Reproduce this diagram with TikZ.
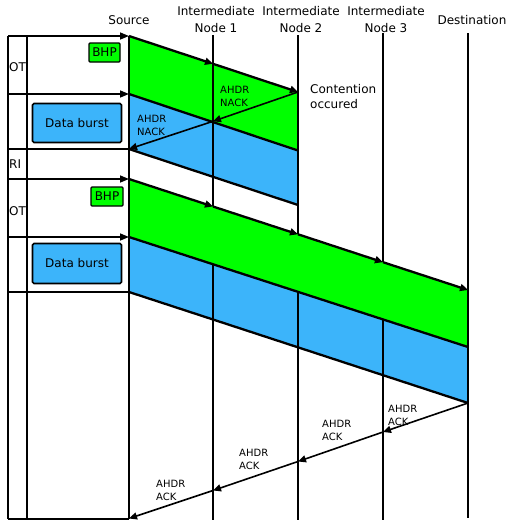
\documentclass[tikz,border=0pt]{standalone}
\usepackage{fontspec}
\setmainfont{DejaVu Sans}
\usetikzlibrary{arrows.meta}
\definecolor{bgreen}{RGB}{0,255,0}
\definecolor{bblue}{RGB}{60,180,250}
\begin{document}
\begin{tikzpicture}[x=1pt,y=-1pt,
  thinline/.style={line width=1.5pt},
  thickline/.style={line width=2.3pt},
  msgline/.style={line width=1.6pt},
  arrtip/.style={-{Triangle[length=8pt,width=7pt]}},
  harr/.style={-{Triangle[length=9pt,width=7pt]}},
  lbl/.style={font=\fontsize{12}{17}\selectfont, inner sep=0pt},
  small/.style={font=\fontsize{10}{13}\selectfont, inner sep=0pt, align=left, anchor=north west},
  databox/.style={draw=black, fill=bblue, line width=1.6pt, rounded corners=1.5pt, minimum width=89pt, minimum height=39pt, inner sep=0pt, font=\fontsize{12}{14}\selectfont},
  bhpbox/.style={draw=black, fill=bgreen, line width=1.4pt, rounded corners=1pt, minimum width=31pt, minimum height=19pt, inner sep=0pt, font=\fontsize{12}{14}\selectfont}
]
\useasboundingbox (0,0) rectangle (507,523);
% vertical line ends
\coordinate (St) at (129,36);  \coordinate (Sb) at (129,519);
\coordinate (N1t) at (213,35); \coordinate (N1b) at (213,520);
\coordinate (N2t) at (298,35); \coordinate (N2b) at (298,520);
\coordinate (N3t) at (383,33); \coordinate (N3b) at (383,520);
\coordinate (Dt) at (468,33);  \coordinate (Db) at (468,518);
\coordinate (Ot) at (8,36);    \coordinate (Ob) at (8,519);
\coordinate (It) at (27,36);   \coordinate (Ib) at (27,519);
% block 1
\coordinate (A1) at (129,36); \coordinate (A2) at (213,63.8); \coordinate (A3) at (298,92);
\coordinate (B1) at (129,94); \coordinate (B3) at (298,150.5);
\coordinate (C1) at (129,149); \coordinate (C3) at (298,205);
\coordinate (X) at (213,121.3);
% block 2
\coordinate (P1) at (129,179); \coordinate (P2) at (213,206.5); \coordinate (P3) at (298,234.3);
\coordinate (P4) at (383,262.2); \coordinate (P5) at (468,290);
\coordinate (Q1) at (129,237); \coordinate (Q5) at (468,347);
\coordinate (R1) at (129,292); \coordinate (R5) at (468,403);
% ACK points
\coordinate (K3) at (383,432); \coordinate (K2) at (298,461.5); \coordinate (K1) at (213,490.5);
\coordinate (K0) at (129,518.5);
% left horizontal line starts
\coordinate (H1) at (8,36);  \coordinate (H2) at (8,94);  \coordinate (H3) at (8,149);
\coordinate (H4) at (8,179); \coordinate (H5) at (8,237); \coordinate (H6) at (8,292);
\coordinate (E2) at (129,94); \coordinate (E3) at (129,149); \coordinate (E4) at (129,179);
\coordinate (E5) at (129,237); \coordinate (E6) at (129,292);

% fills
\fill[bgreen] (A1) -- (A3) -- (B3) -- (B1) -- cycle;
\fill[bblue] (B1) -- (B3) -- (C3) -- (C1) -- cycle;
\fill[bblue] (Q1) -- (Q5) -- (R5) -- (R1) -- cycle;
% vertical lines
\draw[thinline] (N1t) -- (N1b);
\draw[thinline] (N2t) -- (N2b);
\draw[thinline] (N3t) -- (N3b);
\draw[thinline] (Dt) -- (Db);
\draw[thinline] (Ot) -- (Ob);
\draw[thinline] (It) -- (Ib);
% green of block 2 covers the lines
\fill[bgreen] (P1) -- (P5) -- (Q5) -- (Q1) -- cycle;
\draw[thinline] (St) -- (Sb);
% block edges
\draw[thickline, arrtip] (A1) -- (A2);
\draw[thickline, arrtip] (A2) -- (A3);
\draw[thickline] (B1) -- (B3);
\draw[thickline] (C1) -- (C3);
\draw[thickline] (A3) -- (C3);
\draw[thickline, arrtip] (P1) -- (P2);
\draw[thickline, arrtip] (P2) -- (P3);
\draw[thickline, arrtip] (P3) -- (P4);
\draw[thickline, arrtip] (P4) -- (P5);
\draw[thickline] (Q1) -- (Q5);
\draw[thickline] (R1) -- (R5);
\draw[thickline] (P5) -- (R5);
% NACK
\draw[msgline, arrtip] (A3) -- (X);
\draw[msgline, arrtip] (X) -- (C1);
% ACK
\draw[msgline, arrtip] (R5) -- (K3);
\draw[msgline, arrtip] (K3) -- (K2);
\draw[msgline, arrtip] (K2) -- (K1);
\draw[msgline, arrtip] (K1) -- (K0);
% left horizontal lines
\draw[thinline, harr] (H1) -- (St);
\draw[thinline, harr] (H2) -- (E2);
\draw[thinline] (H3) -- (E3);
\draw[thinline, harr] (H4) -- (E4);
\draw[thinline, harr] (H5) -- (E5);
\draw[thinline] (H6) -- (E6);
\draw[thinline] (Ob) -- (Sb);

% boxes
\node[bhpbox] (bhp1) at (104.5,52.5) {BHP};
\node[bhpbox, minimum width=32pt] (bhp2) at (107,196.5) {BHP};
\node[databox] (db1) at (77,123) {Data burst};
\node[databox, minimum height=40pt] (db2) at (77,263.5) {Data burst};

% labels
\node[lbl, anchor=base] (src) at (129,24.5) {Source};
\node[lbl, anchor=north, align=center] (n1) at (216,6) {Intermediate\\Node 1};
\node[lbl, anchor=north, align=center] (n2) at (301,6) {Intermediate\\Node 2};
\node[lbl, anchor=north, align=center] (n3) at (386,6) {Intermediate\\Node 3};
\node[lbl, anchor=base] (dst) at (472,24) {Destination};
\node[lbl, anchor=north west, align=left, font=\fontsize{12}{15}\selectfont] (cont) at (310,84) {Contention\\occured};
\node[lbl, anchor=base west] (ot1) at (9,71.5) {OT};
\node[lbl, anchor=base west] (ri) at (9,168) {RI};
\node[lbl, anchor=base west] (ot2) at (9,215) {OT};
\node[small] (nk1) at (220,86) {AHDR\\NACK};
\node[small] (nk2) at (137,114.7) {AHDR\\NACK};
\node[small] (ak3) at (388,404.7) {AHDR\\ACK};
\node[small] (ak2) at (322,419.7) {AHDR\\ACK};
\node[small] (ak1) at (239,449.4) {AHDR\\ACK};
\node[small] (ak0) at (156,479.7) {AHDR\\ACK};
\end{tikzpicture}
\end{document}
